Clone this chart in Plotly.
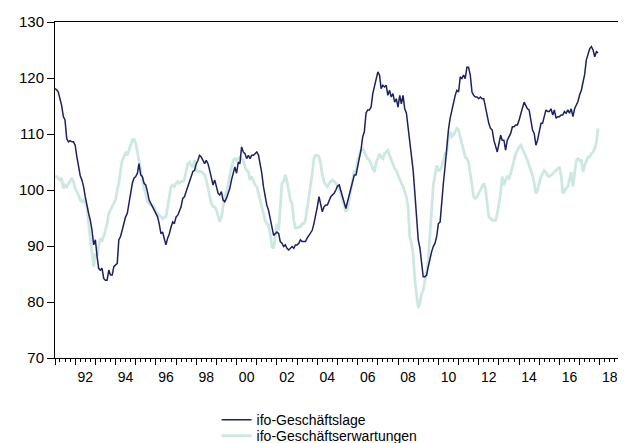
import pandas as pd
import plotly.graph_objects as go

# Monthly values, Jan 1991 - Dec 2017
geschaeftslage = [
    118.1, 117.9, 117.5, 116.3, 115.1, 113.1, 112.5, 109.2, 108.6, 108.8, 108.6, 108.6,
    108.0, 105.9, 104.4, 102.6, 101.8, 100.6, 98.8, 97.0, 95.8, 94.6, 92.8, 90.2,
    91.1, 88.1, 86.0, 85.7, 86.0, 84.2, 83.9, 83.9, 85.7, 84.8, 84.8, 86.3,
    86.6, 86.9, 91.1, 91.7, 92.8, 94.0, 95.2, 95.8, 97.6, 98.8, 101.2, 102.1,
    102.4, 103.0, 104.7, 102.7, 102.4, 101.2, 100.9, 99.7, 98.2, 97.6, 97.0, 96.4,
    95.8, 95.2, 94.0, 92.2, 92.5, 91.1, 90.2, 91.4, 92.2, 93.4, 94.3,
    94.0, 95.2, 95.5, 96.4, 97.0, 98.5, 98.8, 99.7, 100.6, 101.8, 102.7, 103.3,
    103.5, 104.7, 105.3, 106.2, 105.9, 105.3, 104.7, 105.3, 104.7, 103.5, 102.4, 100.9,
    101.8, 100.3, 99.4, 99.1, 99.7, 98.2, 97.9, 98.5, 99.4, 100.3, 101.8, 103.0,
    104.1, 103.0, 105.0, 104.7, 107.7, 106.8, 106.5, 105.6, 106.2, 105.6, 106.2, 106.2,
    106.5, 106.8, 106.2, 104.7, 103.0, 100.6, 98.8, 97.3, 96.4, 94.6, 93.4, 91.9,
    92.2, 92.5, 92.2, 90.8, 90.5, 89.9, 90.2, 89.6, 89.3, 89.6, 89.9, 89.6,
    90.2, 90.2, 90.5, 91.1, 90.8, 90.8, 90.8, 91.4, 91.9, 92.2, 92.8, 94.0,
    95.2, 97.0, 98.8, 97.3, 96.1, 97.0, 97.3, 97.3, 98.2, 98.8, 99.1, 99.4,
    100.0, 100.7, 100.9, 100.0, 98.8, 97.6, 96.7, 97.9, 99.1, 100.0, 101.2, 102.7,
    102.7, 104.1, 105.9, 107.1, 109.5, 110.4, 113.7, 114.3, 114.3, 114.8, 117.2, 118.7,
    119.6, 121.1, 120.5, 118.1, 118.7, 118.4, 118.7, 116.9, 117.8, 116.6, 117.2, 115.7,
    116.3, 114.8, 116.9, 115.4, 116.9, 114.5, 113.7, 111.3, 108.3, 105.3, 103.5,
    99.4, 94.6, 91.1, 89.6, 86.9, 84.5, 84.5, 84.8, 86.3, 87.8, 89.0, 89.9,
    90.5, 91.7, 94.0, 94.3, 98.2, 101.2, 104.1, 108.3, 110.7, 112.8, 114.3, 115.4,
    116.9, 117.8, 117.5, 120.2, 119.9, 120.5, 119.9, 121.9, 121.9, 120.5, 117.5, 116.9,
    116.6, 116.6, 116.3, 116.6, 116.3, 116.3, 114.8, 113.1, 111.9, 111.0, 110.7, 108.9,
    107.7, 106.8, 108.3, 109.8, 108.9, 108.9, 107.1, 108.9, 109.5, 110.1, 111.3, 111.3,
    111.6, 111.6, 112.5, 113.7, 114.8, 115.7, 115.1, 114.5, 114.3, 112.8, 110.7, 110.1,
    108.0, 108.9, 110.4, 111.9, 111.9, 113.1, 114.3, 114.0, 114.0, 114.5, 113.4, 114.3,
    112.8, 113.1, 113.1, 113.4, 113.4, 114.0, 113.7, 114.3, 113.7, 114.5, 113.1, 114.5,
    115.1, 115.8, 117.0, 117.8, 119.2, 120.6, 123.2, 124.1, 125.2, 125.6, 125.0, 123.8,
    124.7, 124.5,
]

geschaeftserwartungen = [
    102.4, 102.4, 102.1, 101.8, 102.1, 100.3, 100.9, 100.6, 101.2, 101.5, 102.1, 101.5,
    100.3, 99.7, 99.1, 98.2, 97.9, 98.2, 97.6, 97.0, 94.0, 91.1, 88.1, 86.3,
    88.7, 88.1, 89.9, 91.4, 90.8, 91.7, 92.8, 94.0, 95.8, 96.4, 97.0, 97.6,
    98.2, 100.0, 101.2, 103.5, 105.3, 105.9, 106.8, 106.2, 107.1, 108.0, 108.9, 109.0,
    108.3, 106.8, 105.3, 103.5, 101.8, 100.3, 99.4, 97.9, 97.6, 97.3, 97.3, 97.0,
    96.1, 95.8, 95.5, 95.2, 94.9, 95.2, 95.2, 97.0, 98.8, 100.6, 100.9,
    100.6, 101.2, 101.5, 101.2, 101.5, 101.5, 101.8, 103.3, 104.7, 105.0, 104.4, 104.1,
    105.3, 103.5, 103.3, 103.3, 103.3, 103.0, 102.7, 101.8, 100.3, 99.4, 97.6, 97.0,
    97.0, 96.4, 95.2, 94.3, 95.2, 97.0, 98.8, 99.7, 100.9, 102.7, 104.1, 105.3,
    105.6, 105.3, 105.6, 105.9, 105.6, 105.3, 104.1, 103.5, 103.3, 101.8, 102.4, 101.5,
    100.9, 100.6, 99.4, 98.2, 97.0, 95.8, 94.6, 94.0, 93.7, 92.2, 89.9, 89.6,
    92.2, 94.0, 92.8, 97.6, 101.2, 101.5, 102.7, 101.5, 99.7, 98.2, 97.6, 94.6,
    93.2, 93.2, 93.4, 93.4, 94.0, 94.0, 94.6, 96.4, 98.5, 100.9, 103.0, 105.6,
    106.2, 106.2, 105.9, 104.7, 102.7, 101.5, 100.9, 100.6, 101.2, 101.5, 101.8, 101.5,
    101.2, 100.9, 100.3, 99.4, 98.2, 97.0, 96.1, 96.7, 98.2, 100.0, 101.8, 103.5,
    102.9, 105.3, 106.2, 107.1, 107.4, 106.8, 106.2, 105.6, 105.3, 104.7, 103.8, 103.2,
    105.0, 105.6, 106.5, 105.9, 105.6, 106.5, 106.8, 107.1, 106.2, 105.3, 104.4, 103.8,
    103.5, 102.6, 102.1, 101.2, 100.6, 99.7, 98.8, 97.0, 91.6, 90.5, 88.4,
    83.9, 80.9, 78.9, 79.8, 81.5, 82.1, 83.6, 85.4, 87.5, 91.6, 97.0, 100.9,
    102.6, 104.4, 103.5, 103.5, 104.1, 105.3, 106.5, 106.5, 109.5, 110.4, 109.5, 109.8,
    110.4, 111.0, 110.7, 109.5, 108.6, 107.4, 105.9, 105.6, 105.0, 102.9, 100.6, 98.8,
    98.5, 98.8, 99.4, 100.0, 100.6, 101.2, 100.3, 97.6, 95.2, 94.9, 94.6, 94.6,
    94.6, 95.8, 97.6, 99.4, 102.4, 100.9, 101.8, 102.4, 102.1, 102.9, 104.1, 105.6,
    106.5, 107.1, 107.7, 108.0, 107.4, 106.5, 105.9, 105.3, 104.4, 103.5, 102.6, 101.2,
    99.4, 100.0, 101.2, 102.4, 102.9, 103.5, 103.2, 102.6, 102.4, 102.6, 102.9, 103.2,
    103.5, 103.8, 104.1, 102.6, 99.4, 99.7, 100.3, 100.6, 102.1, 103.2, 100.6, 102.9,
    105.3, 105.6, 105.3, 105.3, 103.2, 104.4, 105.0, 105.9, 105.9, 106.5, 106.8, 107.4,
    108.6, 111.0,
]

series_names = ["ifo-Geschäftslage", "ifo-Geschäftserwartungen"]
year_labels = ["92", "94", "96", "98", "00", "02", "04", "06", "08", "10", "12", "14", "16", "18"]
label_years = [1992, 1994, 1996, 1998, 2000, 2002, 2004, 2006, 2008, 2010, 2012, 2014, 2016, 2018]

dates_lage = pd.date_range("1991-01-01", periods=len(geschaeftslage), freq="MS")
dates_erw = pd.date_range("1991-01-01", periods=len(geschaeftserwartungen), freq="MS")

DARK = "#1c2160"
LIGHT = "#cde8e2"
FONT = "Arial, Liberation Sans, Helvetica, sans-serif"

fig = go.Figure()
fig.add_trace(go.Scatter(x=dates_erw, y=geschaeftserwartungen, mode="lines", name=series_names[1],
                         line=dict(color=LIGHT, width=2.8), legend="legend2"))
fig.add_trace(go.Scatter(x=dates_lage, y=geschaeftslage, mode="lines", name=series_names[0],
                         line=dict(color=DARK, width=1.5), legend="legend"))
# empty helper trace so the label axis is drawn
fig.add_trace(go.Scatter(x=[], y=[], xaxis="x2", showlegend=False, hoverinfo="skip"))

x_range = ["1991-01-01", "2019-01-01"]
year_ticks = [f"{y}-01-01" for y in range(1991, 2020)]

legend_common = dict(orientation="v", xanchor="left", yanchor="top",
                     bgcolor="rgba(0,0,0,0)", font=dict(size=14, family=FONT, color="black"))

# the page body has an 8px default margin, so the figure is 8px smaller
fig.update_layout(
    width=618, height=435,
    margin=dict(l=47, r=6, t=14, b=85, autoexpand=False),
    paper_bgcolor="white", plot_bgcolor="white",
    font=dict(family=FONT, size=14, color="black"),
    showlegend=True,
    legend=dict(x=0.286, y=-0.137, **legend_common),
    legend2=dict(x=0.286, y=-0.185, **legend_common),
    hovermode=False,
    xaxis=dict(
        type="date", range=x_range, showgrid=False, zeroline=False, automargin=False,
        showline=True, linecolor="black", linewidth=1, mirror=True,
        tickmode="array", tickvals=year_ticks, ticks="outside", ticklen=6,
        tickcolor="black", tickwidth=1, showticklabels=False,
        minor=dict(ticks="outside", dtick="M3", tick0="1991-01-01", ticklen=3,
                   tickcolor="black", tickwidth=1, showgrid=False),
    ),
    xaxis2=dict(
        type="date", range=x_range, overlaying="x", anchor="y", side="bottom",
        showgrid=False, zeroline=False, showline=False, automargin=False,
        tickmode="array", tickvals=[f"{y}-07-01" for y in label_years], ticktext=year_labels,
        ticks="outside", ticklen=6, tickcolor="rgba(0,0,0,0)",
        tickfont=dict(size=14, family=FONT, color="black"),
    ),
    yaxis=dict(
        range=[70, 130], tickmode="array", tickvals=[70, 80, 90, 100, 110, 120, 130],
        showgrid=False, zeroline=False, showline=True, linecolor="black", linewidth=1,
        mirror=True, ticks="outside", ticklen=7, tickcolor="black", tickwidth=1,
        automargin=False, tickfont=dict(size=15, family=FONT, color="black"),
    ),
)

fig.write_html("out.html", config={"displayModeBar": False})
